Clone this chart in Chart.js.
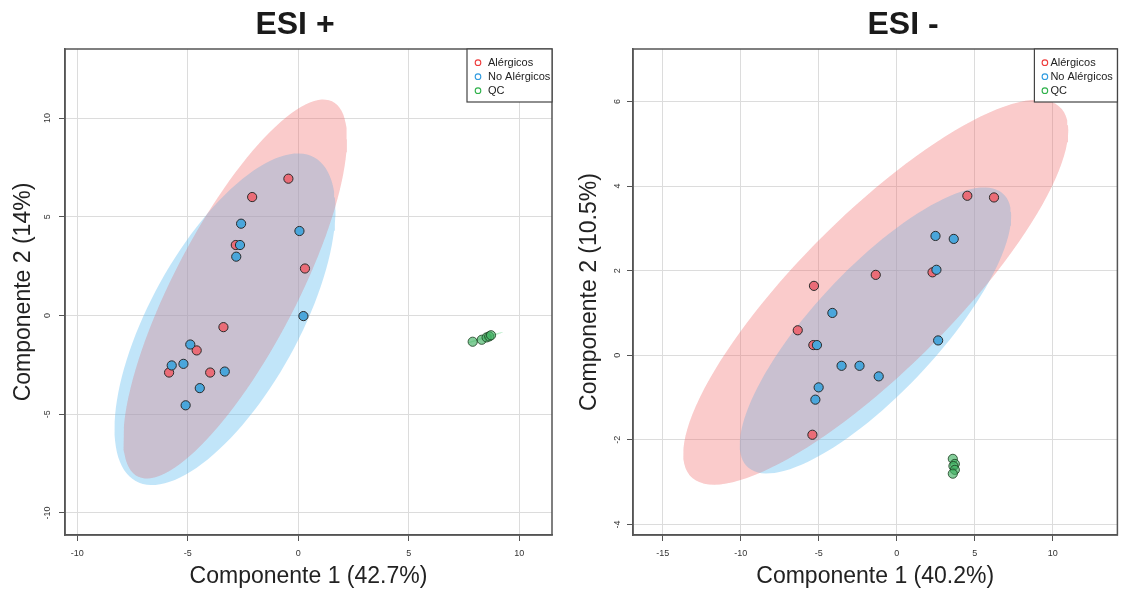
<!DOCTYPE html>
<html>
<head>
<meta charset="utf-8">
<script src="https://cdn.jsdelivr.net/npm/chart.js@4.4.1/dist/chart.umd.min.js"></script>
<style>
  html, body { margin: 0; padding: 0; background: #fff; }
  #wrap { position: relative; width: 1123px; height: 595px; }
  .panel { position: absolute; top: 0; height: 595px; }
</style>
</head>
<body>
<div id="wrap">
  <div class="panel" style="left:0;width:560px"><canvas id="esiPos" width="560" height="595"></canvas></div>
  <div class="panel" style="left:560px;width:563px"><canvas id="esiNeg" width="563" height="595"></canvas></div>
</div>
<script>
// groups
const groupLabels = ['Alérgicos', 'No Alérgicos', 'QC'];

// ESI + scores
const posAlergicosX = [-0.45, -2.09, -2.83, 0.30, -3.39, -4.60, -5.85, -3.99];
const posAlergicosY = [6.93, 6.00, 3.57, 2.38, -0.59, -1.77, -2.89, -2.89];
const posNoAlergicosX = [-2.59, 0.05, -2.64, -2.81, 0.23, -4.89, -5.73, -5.20, -3.33, -4.46, -5.10];
const posNoAlergicosY = [4.65, 4.28, 3.57, 2.98, -0.03, -1.47, -2.53, -2.45, -2.84, -3.68, -4.55];
const posQcX = [7.89, 8.30, 8.52, 8.64, 8.72];
const posQcY = [-1.33, -1.23, -1.11, -1.06, -1.00];

// ESI - scores
const negAlergicosX = [4.53, 6.24, 2.30, -1.34, -5.30, -6.34, -5.34, -5.40];
const negAlergicosY = [3.77, 3.73, 1.96, 1.90, 1.64, 0.59, 0.24, -1.88];
const negNoAlergicosX = [2.49, 3.66, 2.55, -4.12, -5.11, 2.66, -3.53, -2.38, -1.15, -5.00, -5.21];
const negNoAlergicosY = [2.82, 2.75, 2.02, 1.00, 0.24, 0.35, -0.25, -0.25, -0.50, -0.76, -1.05];
const negQcX = [3.60, 3.73, 3.64, 3.73, 3.60];
const negQcY = [-2.45, -2.57, -2.62, -2.71, -2.80];

// confidence ellipses: [centerX, centerY, halfRangeX, halfRangeY, correlation]
const posEllipseAlergicos = [-2.86, 1.34, 5.06, 9.6, 0.79];
const posEllipseNoAlergicos = [-3.32, -0.19, 5.0, 8.4, 0.66];
const posEllipseQc = [8.45, -1.12, 0.8, 0.28, 0.98];
const negEllipseAlergicos = [-1.34, 1.49, 12.34, 4.55, 0.84];
const negEllipseNoAlergicos = [-1.36, 0.585, 8.7, 3.38, 0.80];

// axes
const posXRange = [-10.56, 11.48];
const posYRange = [-11.12, 13.5];
const negXRange = [-16.9, 14.15];
const negYRange = [-4.25, 7.24];
const posXTicks = [-10, -5, 0, 5, 10];
const posYTicks = [-10, -5, 0, 5, 10];
const negXTicks = [-15, -10, -5, 0, 5, 10];
const negYTicks = [-4, -2, 0, 2, 4, 6];

const fontFamily = "'Liberation Sans', Arial, Helvetica, sans-serif";
Chart.defaults.font.family = fontFamily;

const pointFill = ['#EA6C77', '#4AA6DB', 'rgba(65,178,98,0.65)'];
const pointEdge = ['#2a2a2a', '#2a2a2a', 'rgba(25,60,30,0.8)'];
// red ellipse is laid in two thin coats, one under and one over the blue one
const ellipseFill = ['rgba(238,110,110,0.2)', 'rgba(100,190,240,0.4)', 'rgba(120,220,150,0.45)'];
const legendColors = ['#EE3B3B', '#2F9BE0', '#2EB14A'];

function toPoints(xs, ys) {
    return xs.map((x, i) => ({ x: x, y: ys[i] }));
}

function ellipsePoints(e) {
    const [cx, cy, sx, sy, rho] = e;
    const pts = [];
    const n = 120;
    for (let i = 0; i <= n; i++) {
        const t = i / n * 2 * Math.PI;
        pts.push({
            x: cx + sx * Math.cos(t),
            y: cy + sy * (rho * Math.cos(t) + Math.sqrt(1 - rho * rho) * Math.sin(t))
        });
    }
    return pts;
}

const decorPlugin = {
    id: 'decor',
    afterDatasetsDraw(chart, args, opts) {
        const ctx = chart.ctx;
        const a = chart.chartArea;
        ctx.save();
        ctx.strokeStyle = '#555';
        ctx.lineWidth = 1.5;
        ctx.strokeRect(a.left, a.top, a.right - a.left, a.bottom - a.top);

        // legend box
        const bx = a.right - opts.boxWidth;
        const by = a.top;
        ctx.fillStyle = '#fff';
        ctx.fillRect(bx, by, opts.boxWidth, 53);
        ctx.strokeStyle = '#444';
        ctx.lineWidth = 1.2;
        ctx.strokeRect(bx, by, opts.boxWidth, 53);
        groupLabels.forEach((lab, i) => {
            const y = by + 13.7 + i * 14;
            ctx.beginPath();
            ctx.arc(bx + opts.markerX, y, 2.8, 0, 2 * Math.PI);
            ctx.strokeStyle = legendColors[i];
            ctx.lineWidth = 1.1;
            ctx.stroke();
            ctx.fillStyle = '#222';
            ctx.font = '11px ' + fontFamily;
            ctx.textAlign = 'left';
            ctx.textBaseline = 'middle';
            ctx.fillText(lab, bx + opts.textX, y + 0.5);
        });

        // title
        ctx.font = 'bold 32px ' + fontFamily;
        ctx.textAlign = 'center';
        ctx.textBaseline = 'middle';
        ctx.fillStyle = '#1a1a1a';
        ctx.fillText(opts.title, opts.titleX, 25);
        ctx.restore();
    }
};

function makeChart(id, cfg) {
    const pointSets = [
        [cfg.qcX, cfg.qcY, 2, 0],
        [cfg.noX, cfg.noY, 1, 1],
        [cfg.alX, cfg.alY, 0, 2]
    ].map(([xs, ys, g, ord]) => ({
        label: groupLabels[g],
        data: toPoints(xs, ys),
        backgroundColor: pointFill[g],
        borderColor: pointEdge[g],
        borderWidth: 1,
        pointRadius: 4.6,
        order: ord
    }));

    const ellipseSets = cfg.ellipses.map(([e, g, ord]) => ({
        label: groupLabels[g] + ' elipse',
        data: ellipsePoints(e),
        showLine: true,
        fill: 'shape',
        backgroundColor: ellipseFill[g],
        borderColor: 'rgba(0,0,0,0)',
        borderWidth: 0,
        pointRadius: 0,
        tension: 0,
        order: ord
    }));

    return new Chart(document.getElementById(id), {
        type: 'scatter',
        data: { datasets: pointSets.concat(ellipseSets) },
        options: {
            responsive: false,
            animation: false,
            events: [],
            layout: { padding: { top: 49, right: cfg.padRight, left: 0, bottom: 0 } },
            plugins: {
                legend: { display: false },
                tooltip: { enabled: false },
                decor: cfg.decor
            },
            scales: {
                x: {
                    type: 'linear',
                    min: cfg.xRange[0],
                    max: cfg.xRange[1],
                    afterBuildTicks: s => { s.ticks = cfg.xTicks.map(v => ({ value: v })); },
                    afterFit: s => { s.height = 60; },
                    grid: { color: '#dcdcdc', lineWidth: 1, tickColor: '#555', tickLength: 6 },
                    border: { color: '#555', width: 1.5 },
                    ticks: { font: { size: 9 }, color: '#333', padding: 7, maxRotation: 0 },
                    title: {
                        display: true,
                        text: cfg.xTitle,
                        font: { size: 23 },
                        color: '#222',
                        padding: { top: 0, bottom: 5 }
                    }
                },
                y: {
                    type: 'linear',
                    min: cfg.yRange[0],
                    max: cfg.yRange[1],
                    afterBuildTicks: s => { s.ticks = cfg.yTicks.map(v => ({ value: v })); },
                    afterFit: s => { s.width = cfg.yWidth; },
                    grid: { color: '#dcdcdc', lineWidth: 1, tickColor: '#555', tickLength: 6 },
                    border: { color: '#555', width: 1.5 },
                    ticks: {
                        font: { size: 9 },
                        color: '#333',
                        padding: 5,
                        minRotation: 90,
                        maxRotation: 90,
                        crossAlign: 'center'
                    },
                    title: {
                        display: true,
                        text: cfg.yTitle,
                        font: { size: 23 },
                        color: '#222',
                        padding: { top: cfg.yTitlePad, bottom: 0 }
                    }
                }
            }
        },
        plugins: [decorPlugin]
    });
}

// ellipse order: higher number is painted first (further back)
makeChart('esiPos', {
    alX: posAlergicosX, alY: posAlergicosY,
    noX: posNoAlergicosX, noY: posNoAlergicosY,
    qcX: posQcX, qcY: posQcY,
    ellipses: [[posEllipseQc, 2, 3], [posEllipseAlergicos, 0, 4], [posEllipseNoAlergicos, 1, 5], [posEllipseAlergicos, 0, 6]],
    xRange: posXRange, yRange: posYRange,
    xTicks: posXTicks, yTicks: posYTicks,
    xTitle: 'Componente 1 (42.7%)', yTitle: 'Componente 2 (14%)',
    yWidth: 65, padRight: 8, yTitlePad: 10,
    decor: { title: 'ESI +', titleX: 295, boxWidth: 85, markerX: 11, textX: 21 }
});

makeChart('esiNeg', {
    alX: negAlergicosX, alY: negAlergicosY,
    noX: negNoAlergicosX, noY: negNoAlergicosY,
    qcX: negQcX, qcY: negQcY,
    ellipses: [[negEllipseAlergicos, 0, 4], [negEllipseNoAlergicos, 1, 5], [negEllipseAlergicos, 0, 6]],
    xRange: negXRange, yRange: negYRange,
    xTicks: negXTicks, yTicks: negYTicks,
    xTitle: 'Componente 1 (40.2%)', yTitle: 'Componente 2 (10.5%)',
    yWidth: 73, padRight: 3, yTitlePad: 16,
    decor: { title: 'ESI -', titleX: 343, boxWidth: 83, markerX: 10.5, textX: 16 }
});
</script>
</body>
</html>
